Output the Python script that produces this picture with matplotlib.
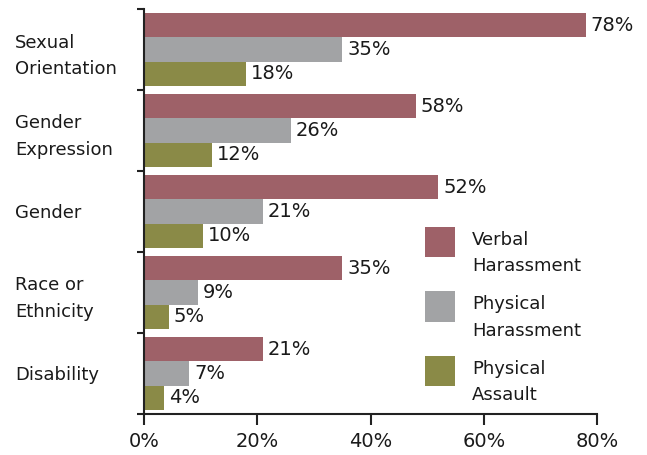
import matplotlib.pyplot as plt
from matplotlib.patches import Rectangle
from matplotlib.container import BarContainer
from matplotlib.legend_handler import HandlerPatch, update_from_first_child
import numpy as np

plt.rcParams['font.family'] = ['DejaVu Sans']

categories = ["Sexual\nOrientation", "Gender\nExpression", "Gender", "Race or\nEthnicity", "Disability"]
series = ["Verbal\nHarassment", "Physical\nHarassment", "Physical\nAssault"]
colors = ["#9e6168", "#a2a3a5", "#8a8a47"]

# bar lengths as drawn in the original (the 58% bar is drawn short there)
verbal = [78, 48, 52, 35, 21]
physical_har = [35, 26, 21, 9.5, 8]
physical_ass = [18, 12, 10.4, 4.4, 3.5]

# printed labels
verbal_lbl = ["78%", "58%", "52%", "35%", "21%"]
physical_har_lbl = ["35%", "26%", "21%", "9%", "7%"]
physical_ass_lbl = ["18%", "12%", "10%", "5%", "4%"]

xticks = [0, 20, 40, 60, 80]
xtick_labels = ["0%", "20%", "40%", "60%", "80%"]

W, H = 647, 455
fig = plt.figure(figsize=(W / 100, H / 100), dpi=100)
ax = fig.add_axes([144 / W, 41 / H, (597 - 144) / W, (414 - 9) / H])

y = np.arange(len(categories))
h = 0.3
data = [verbal, physical_har, physical_ass]
labels = [verbal_lbl, physical_har_lbl, physical_ass_lbl]
for i, (vals, lbls) in enumerate(zip(data, labels)):
    bars = ax.barh(y + (i - 1) * h, vals, height=h, color=colors[i], label=series[i])
    ax.bar_label(bars, labels=lbls, padding=3.5, fontsize=14, color="#1a1a1a")

ax.set_xlim(0, 80)
ax.set_ylim(4.5, -0.5)
ax.set_xticks(xticks)
ax.set_xticklabels(xtick_labels, fontsize=14, color="#1a1a1a")
ax.tick_params(axis='x', length=8, width=1.5, color="#222222", pad=5)

ax.set_yticks(y)
ax.set_yticklabels(categories, fontsize=13, color="#1a1a1a", ha='left', linespacing=1.6)
ax.set_yticks(np.arange(-0.5, 5, 1), minor=True)
ax.tick_params(axis='y', which='major', length=0, pad=(144 - 15) * 0.72)
ax.tick_params(axis='y', which='minor', length=5, width=1.5, color="#222222")

for s in ['top', 'right']:
    ax.spines[s].set_visible(False)
for s in ['left', 'bottom']:
    ax.spines[s].set_linewidth(1.5)
    ax.spines[s].set_color("#222222")


def raised_patch(legend, orig_handle, xdescent, ydescent, width, height, fontsize):
    # square swatch sitting higher than the two-line text, as in the original
    return Rectangle((-xdescent, -ydescent + 6.5), width, width)


leg = ax.legend(loc='upper left', bbox_to_anchor=(425 / W, 1 - 231 / H),
                bbox_transform=fig.transFigure, frameon=False, fontsize=13,
                borderpad=0, borderaxespad=0, handlelength=1.67, handleheight=1.67,
                handletextpad=0.95, labelspacing=1.1,
                handler_map={BarContainer: HandlerPatch(patch_func=raised_patch,
                                                        update_func=update_from_first_child)})
for t in leg.get_texts():
    t.set_linespacing(1.6)
    t.set_color("#1a1a1a")

fig.savefig("out.png", dpi=100)
